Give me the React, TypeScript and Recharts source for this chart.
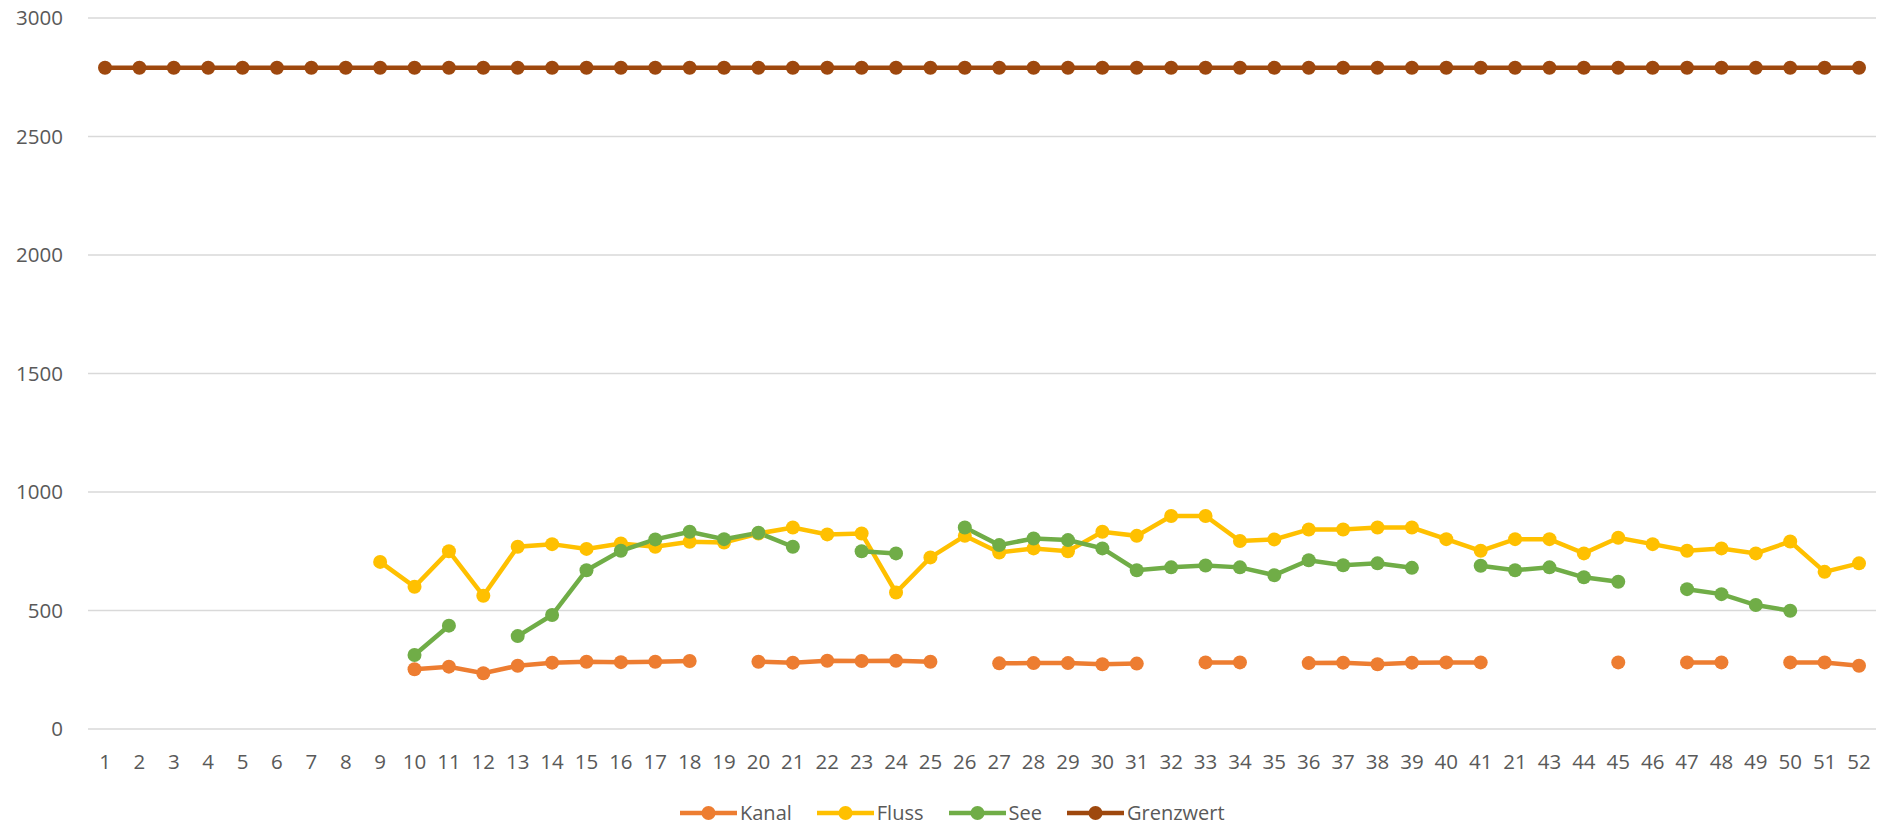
import { CartesianGrid, Legend, Line, LineChart, XAxis, YAxis } from 'recharts'

const weekLabels = [
  '1', '2', '3', '4', '5', '6', '7', '8', '9', '10',
  '11', '12', '13', '14', '15', '16', '17', '18', '19', '20',
  '21', '22', '23', '24', '25', '26', '27', '28', '29', '30',
  '31', '32', '33', '34', '35', '36', '37', '38', '39', '40',
  '41', '21', '43', '44', '45', '46', '47', '48', '49', '50',
  '51', '52',
]

const kanal = [
  null, null, null, null, null, null, null, null, null, 252,
  263, 235, 267, 280, 284, 282, 284, 287, null, 284,
  280, 288, 287, 288, 284, null, 277, 278, 278, 273,
  276, null, 281, 281, null, 278, 280, 273, 280, 281,
  281, null, null, null, 281, null, 281, 281, null, 281,
  281, 267,
]

const fluss = [
  null, null, null, null, null, null, null, null, 705, 600,
  750, 562, 769, 780, 760, 783, 769, 790, 787, 825,
  850, 821, 825, 576, 724, 815, 745, 762, 750, 832,
  815, 899, 899, 793, 800, 842, 842, 850, 850, 801,
  752, 801, 801, 741, 807, 780, 752, 762, 741, 791,
  663, 699,
]

const see = [
  null, null, null, null, null, null, null, null, null, 312,
  436, null, 392, 481, 670, 752, 800, 832, 801, 828,
  769, null, 750, 741, null, 850, 776, 804, 797, 762,
  670, 682, 690, 682, 649, 712, 691, 699, 680, null,
  689, 670, 682, 640, 621, null, 590, 569, 523, 499,
  null, null,
]

const grenzwert = [
  2790, 2790, 2790, 2790, 2790, 2790, 2790, 2790, 2790, 2790,
  2790, 2790, 2790, 2790, 2790, 2790, 2790, 2790, 2790, 2790,
  2790, 2790, 2790, 2790, 2790, 2790, 2790, 2790, 2790, 2790,
  2790, 2790, 2790, 2790, 2790, 2790, 2790, 2790, 2790, 2790,
  2790, 2790, 2790, 2790, 2790, 2790, 2790, 2790, 2790, 2790,
  2790, 2790,
]

const yTicks = [0, 500, 1000, 1500, 2000, 2500, 3000]

const series = [
  { key: 'kanal', name: 'Kanal', color: '#ED7D31' },
  { key: 'fluss', name: 'Fluss', color: '#FFC000' },
  { key: 'see', name: 'See', color: '#70AD47' },
  { key: 'grenzwert', name: 'Grenzwert', color: '#9E480E' },
]

const data = weekLabels.map((label, i) => ({
  idx: i,
  label,
  kanal: kanal[i],
  fluss: fluss[i],
  see: see[i],
  grenzwert: grenzwert[i],
}))

const textColor = '#595959'

function LegendContent() {
  return (
    <div style={{ display: 'flex', alignItems: 'center', height: 30, fontSize: 20, color: textColor }}>
      {series.map((s) => (
        <div key={s.key} style={{ display: 'flex', alignItems: 'center', marginRight: 25 }}>
          <svg width={57} height={16} style={{ display: 'block' }}>
            <line x1={0} y1={8} x2={57} y2={8} stroke={s.color} strokeWidth={4.5} strokeLinecap="round" />
            <circle cx={28.5} cy={8} r={7} fill={s.color} />
          </svg>
          <span style={{ marginLeft: 3, lineHeight: '30px' }}>{s.name}</span>
        </div>
      ))}
    </div>
  )
}

export default function App() {
  return (
    <div style={{ position: 'absolute', left: 0, top: 0, fontFamily: '"Open Sans", sans-serif', background: '#fff' }}>
      <LineChart width={1887} height={829} data={data} margin={{ top: 18, right: 11, left: 0, bottom: 1 }}>
        <CartesianGrid vertical={false} stroke="#d9d9d9" strokeWidth={1.5} />
        <XAxis
          dataKey="idx"
          type="category"
          tickFormatter={(v) => weekLabels[v]}
          interval={0}
          height={69}
          padding={{ left: 17, right: 17 }}
          axisLine={false}
          tickLine={false}
          tickSize={0}
          tickMargin={25}
          tick={{ fontSize: 20.5, fill: textColor }}
        />
        <YAxis
          domain={[0, 3000]}
          ticks={yTicks}
          width={88}
          axisLine={false}
          tickLine={false}
          tickSize={0}
          tickMargin={25}
          tick={{ fontSize: 20.5, fill: textColor }}
        />
        <Legend verticalAlign="bottom" content={<LegendContent />} wrapperStyle={{ left: 680, width: 'auto', bottom: 1 }} />
        {series.map((s) => (
          <Line
            key={s.key}
            type="linear"
            dataKey={s.key}
            name={s.name}
            stroke={s.color}
            strokeWidth={4.5}
            dot={{ r: 7, fill: s.color, stroke: s.color, strokeWidth: 0 }}
            activeDot={false}
            isAnimationActive={false}
          />
        ))}
      </LineChart>
    </div>
  )
}
